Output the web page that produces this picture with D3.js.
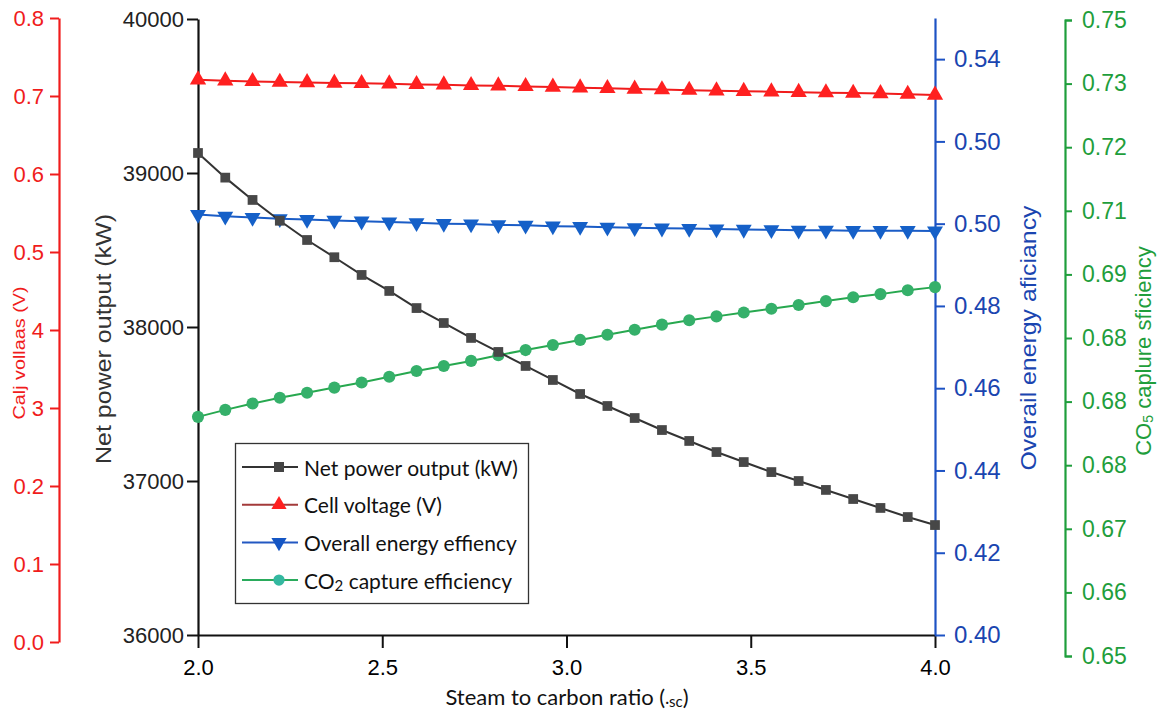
<!DOCTYPE html>
<html><head><meta charset="utf-8">
<script src="https://cdn.jsdelivr.net/npm/d3@7"></script>
<style>
html,body{margin:0;padding:0;background:#fff;}
svg{display:block;}
</style></head>
<body>
<svg id="chart" width="1162" height="713"></svg>
<script>
// ---- data ----
const steamToCarbon = [2.000,2.074,2.148,2.222,2.296,2.370,2.444,2.519,2.593,2.667,2.741,2.815,2.889,2.963,3.037,3.111,3.185,3.259,3.333,3.407,3.481,3.556,3.630,3.704,3.778,3.852,3.926,4.000];
const netPower = [39130,38970,38825,38690,38565,38453,38338,38234,38123,38026,37929,37838,37747,37656,37565,37487,37409,37331,37260,37188,37123,37058,37000,36942,36883,36825,36766,36714];
const cellVoltage = [0.7209,0.7196,0.7187,0.7179,0.7174,0.7167,0.7162,0.7158,0.7149,0.7145,0.7136,0.7132,0.7123,0.7115,0.7106,0.7098,0.7090,0.7082,0.7075,0.7068,0.7061,0.7055,0.7049,0.7043,0.7038,0.7033,0.7024,0.7013];
const energyEff = [0.5022,0.5018,0.5015,0.5012,0.5010,0.5008,0.5006,0.5004,0.5002,0.5000,0.4999,0.4997,0.4996,0.4994,0.4993,0.4991,0.4990,0.4989,0.4988,0.4987,0.4986,0.4985,0.4984,0.4984,0.4983,0.4983,0.4983,0.4982];
const co2Eff = [0.6876,0.6887,0.6897,0.6906,0.6914,0.6922,0.6930,0.6939,0.6948,0.6956,0.6964,0.6973,0.6981,0.6989,0.6997,0.7005,0.7013,0.7021,0.7028,0.7034,0.7040,0.7046,0.7052,0.7058,0.7064,0.7069,0.7075,0.7080];

const xTicks = [2.0,2.5,3.0,3.5,4.0];
const xTickLabels = ["2.0","2.5","3.0","3.5","4.0"];
const powerTicks = [36000,37000,38000,39000,40000];
const powerTickLabels = ["36000","37000","38000","39000","40000"];
const voltTicks = [0,0.1,0.2,0.3,0.4,0.5,0.6,0.7,0.8];
const voltTickLabels = ["0.0","0.1","0.2","3","4","0.5","0.6","0.7","0.8"];
const effTicks = [0.40,0.42,0.44,0.46,0.48,0.50,0.52,0.54];
const effTickLabels = ["0.40","0.42","0.44","0.46","0.48","0.50","0.50","0.54"];
const co2Ticks = [0.65,0.66,0.67,0.68,0.69,0.70,0.71,0.72,0.73,0.74,0.75];
const co2TickLabels = ["0.65","0.66","0.67","0.68","0.68","0.68","0.69","0.71","0.72","0.73","0.75"];

const legendLabels = ["Net power output (kW)","Cell voltage (V)","Overall energy effiency","CO2 capture efficiency"];

// ---- colors ----
const cBlack="#2b2b2b", cRed="#f01c1c", cBlue="#1d52c4", cGreen="#1f9e3c";

const svg = d3.select("#chart");
const x = d3.scaleLinear().domain([2,4]).range([198,935]);
const yP = d3.scaleLinear().domain([36000,40000]).range([635,19]);
const yV = d3.scaleLinear().domain([0,0.8]).range([642,18]);
const yE = d3.scaleLinear().domain([0.40,0.55]).range([635,18]);
const yC = d3.scaleLinear().domain([0.65,0.75]).range([656,20]);

const tickFont = "Liberation Sans, Arial, sans-serif";

function styleAxis(g, color, size){
  g.select(".domain").attr("stroke",color).attr("stroke-width",2.2);
  g.selectAll(".tick line").attr("stroke",color).attr("stroke-width",2);
  g.selectAll(".tick text").attr("fill",color).style("font-family",tickFont).style("font-size",size+"px");
}

// red axis (left-most)
const gR = svg.append("g").attr("transform","translate(59,0)");
gR.call(d3.axisLeft(yV).tickValues(d3.range(0.05,0.8,0.1)).tickSize(5).tickFormat("")).call(g=>styleAxis(g,cRed,22));
gR.call(d3.axisLeft(yV).tickValues(voltTicks).tickSize(9).tickSizeOuter(0).tickPadding(6).tickFormat((d,i)=>voltTickLabels[i])).call(g=>styleAxis(g,cRed,22));

// black left axis
const gP = svg.append("g").attr("transform","translate(198,0)");
gP.call(d3.axisLeft(yP).tickValues(d3.range(36500,40000,1000)).tickSize(6).tickFormat("")).call(g=>styleAxis(g,"#111",22));
gP.call(d3.axisLeft(yP).tickValues(powerTicks).tickSize(11).tickSizeOuter(0).tickPadding(3).tickFormat((d,i)=>powerTickLabels[i])).call(g=>styleAxis(g,"#111",22));
gP.selectAll(".tick text").attr("fill","#222");

// x axis
const gX = svg.append("g").attr("transform","translate(0,635)");
gX.call(d3.axisBottom(x).tickValues([2.25,2.75,3.25,3.75]).tickSize(7).tickFormat("")).call(g=>styleAxis(g,"#111",22));
gX.call(d3.axisBottom(x).tickValues(xTicks).tickSize(13).tickSizeOuter(0).tickPadding(11).tickFormat((d,i)=>xTickLabels[i])).call(g=>styleAxis(g,"#111",22));
gX.selectAll(".tick text").attr("fill","#000").style("font-weight","500");

// blue right axis
const gE = svg.append("g").attr("transform","translate(935,0)");
gE.call(d3.axisRight(yE).tickValues(d3.range(0.41,0.55,0.02)).tickSize(6).tickFormat("")).call(g=>styleAxis(g,cBlue,24));
gE.call(d3.axisRight(yE).tickValues(effTicks).tickSize(10).tickSizeOuter(0).tickPadding(9).tickFormat((d,i)=>effTickLabels[i])).call(g=>styleAxis(g,cBlue,24));
gE.selectAll(".tick text").attr("fill","#1a45b0");

// green axis
const gC = svg.append("g").attr("transform","translate(1065,0)");
gC.call(d3.axisRight(yC).tickValues(d3.range(0.655,0.75,0.01)).tickSize(3).tickFormat("")).call(g=>styleAxis(g,cGreen,23));
gC.call(d3.axisRight(yC).tickValues(co2Ticks).tickSize(7).tickSizeOuter(7).tickPadding(10).tickFormat((d,i)=>co2TickLabels[i])).call(g=>styleAxis(g,cGreen,23));

// axis titles
function vtitle(cx, cy, txt, color, size, len, fam){
  const t = svg.append("text").attr("transform",`translate(${cx},${cy}) rotate(-90)`)
    .attr("text-anchor","middle").attr("dominant-baseline","central")
    .attr("fill",color).style("font-family",fam||tickFont).style("font-size",size+"px");
  if(len){ t.attr("textLength",len).attr("lengthAdjust","spacingAndGlyphs"); }
  return t.text(txt);
}
vtitle(19,353,"Calj vollaas (V)",cRed,17,133);
vtitle(103,339,"Net power output (kW)","#333",22,250);
vtitle(1028,338,"Overail energy aficiancy","#1a45b0",22,265);
const tc = svg.append("text").attr("transform",`translate(1143,351) rotate(-90)`)
  .attr("text-anchor","middle").attr("dominant-baseline","central")
  .attr("fill",cGreen).style("font-family",tickFont).style("font-size","22px");
tc.append("tspan").text("CO");
tc.append("tspan").attr("dy",5).style("font-size","14px").text("5");
tc.append("tspan").attr("dy",-5).text(" caplure sficiency");

// x title
const xt = svg.append("text").attr("x",567).attr("y",705).attr("text-anchor","middle")
  .attr("fill","#111").style("font-family","Lato, sans-serif").style("font-size","22px");
xt.append("tspan").text("Steam to carbon ratio (");
xt.append("tspan").style("font-size","15px").attr("dy",2).text("·sc");
xt.append("tspan").attr("dy",-2).text(")");

// ---- series ----
const series = [
  {vals: netPower, y: yP, line: "#333", fill: "#474747", shape: d3.symbolSquare, size: 95, rot: 0},
  {vals: cellVoltage, y: yV, line: cRed, fill: "#ff2020", shape: d3.symbolTriangle, size: 115, rot: 0},
  {vals: energyEff, y: yE, line: "#1a5cc6", fill: "#1560c8", shape: d3.symbolTriangle, size: 110, rot: 180},
  {vals: co2Eff, y: yC, line: "#27a84f", fill: "#35b06a", shape: d3.symbolCircle, size: 115, rot: 0}
];
const drawOrder = [3,2,0,1];
drawOrder.forEach(k=>{
  const s = series[k];
  const pts = steamToCarbon.map((xv,i)=>[x(xv), s.y(s.vals[i])]);
  svg.append("path").attr("d", d3.line()(pts)).attr("fill","none").attr("stroke",s.line).attr("stroke-width",2);
  svg.append("g").selectAll("path").data(pts).join("path")
    .attr("transform",d=>`translate(${d[0]},${d[1]}) rotate(${s.rot})`)
    .attr("d", d3.symbol().type(s.shape).size(s.size)()).attr("fill",s.fill);
});

// ---- legend ----
const lg = svg.append("g");
lg.append("rect").attr("x",235.5).attr("y",443.5).attr("width",293).attr("height",160)
  .attr("fill","#fff").attr("stroke","#333").attr("stroke-width",1.3);
const legLine = ["#333","#a33a3a","#2358c2","#2aab5c"];
const legFill = ["#444","#ff1f1f","#1556c4","#34b8a0"];
const legShape = [d3.symbolSquare,d3.symbolTriangle,d3.symbolTriangle,d3.symbolCircle];
const legRot = [0,0,180,0];
legendLabels.forEach((lab,i)=>{
  const cy = 467 + i*37.7;
  lg.append("line").attr("x1",242).attr("x2",298).attr("y1",cy).attr("y2",cy).attr("stroke",legLine[i]).attr("stroke-width",2);
  lg.append("path").attr("transform",`translate(279,${cy}) rotate(${legRot[i]})`)
    .attr("d",d3.symbol().type(legShape[i]).size(100)()).attr("fill",legFill[i]);
  const t = lg.append("text").attr("x",304).attr("y",cy).attr("dominant-baseline","central")
    .attr("fill","#111").style("font-family","Lato, sans-serif").style("font-size","21px");
  if(i===3){
    t.append("tspan").text("CO");
    t.append("tspan").attr("dy",5).style("font-size","15px").text("2");
    t.append("tspan").attr("dy",-5).text(" capture efficiency");
  } else t.text(lab);
});
</script>
</body></html>
